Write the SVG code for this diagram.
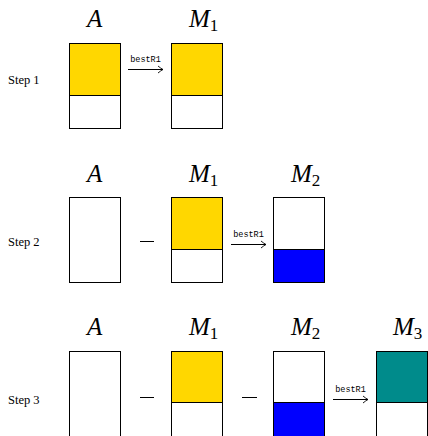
<svg xmlns="http://www.w3.org/2000/svg" width="428" height="436" viewBox="0 0 428 436">
<style>
.bx{stroke:#000;stroke-width:1;}
.w{fill:#fff;}
.y{fill:#FFD700;}
.b{fill:#0000FF;}
.t{fill:#008B8B;}
.lab{font-style:italic;font-size:25px;fill:#000;}
.sub{font-size:17px;font-style:normal;}
.step{font-size:12.5px;fill:#000;}
.op{font-size:8.5px;fill:#000;}
.ln{stroke:#000;stroke-width:1;fill:none;}
</style>
<defs>
<marker id="ah" markerWidth="8" markerHeight="10" refX="6" refY="5" orient="auto" markerUnits="userSpaceOnUse">
<path d="M1,1.5 Q4,4 6,5 Q4,6 1,8.5" fill="none" stroke="#000" stroke-width="0.9"/>
</marker>
</defs>
<g font-family="Liberation Serif, serif">
<text class="step" x="8" y="84">Step 1</text>
<text class="step" x="8" y="246">Step 2</text>
<text class="step" x="8" y="404">Step 3</text>
<g id="s1A"><text class="lab" x="87" y="27">A</text><rect class="bx y" x="69.5" y="43.5" width="51" height="52"/><rect class="bx w" x="69.5" y="95.5" width="51" height="33"/></g>
<g id="s1M1"><text class="lab" x="189" y="27">M<tspan class="sub" dy="4">1</tspan></text><rect class="bx y" x="171.5" y="43.5" width="51" height="52"/><rect class="bx w" x="171.5" y="95.5" width="51" height="33"/></g>
<g id="s2A"><text class="lab" x="87" y="182">A</text><rect class="bx w" x="69.5" y="197.5" width="51" height="85"/></g>
<g id="s2M1"><text class="lab" x="189" y="182">M<tspan class="sub" dy="4">1</tspan></text><rect class="bx y" x="171.5" y="197.5" width="51" height="52"/><rect class="bx w" x="171.5" y="249.5" width="51" height="33"/></g>
<g id="s2M2"><text class="lab" x="291" y="182">M<tspan class="sub" dy="4">2</tspan></text><rect class="bx w" x="273.5" y="197.5" width="51" height="52"/><rect class="bx b" x="273.5" y="249.5" width="51" height="33"/></g>
<g id="s3A"><text class="lab" x="87" y="335">A</text><rect class="bx w" x="69.5" y="351.5" width="51" height="100"/></g>
<g id="s3M1"><text class="lab" x="189" y="335">M<tspan class="sub" dy="4">1</tspan></text><rect class="bx y" x="171.5" y="351.5" width="51" height="51"/><rect class="bx w" x="171.5" y="402.5" width="51" height="50"/></g>
<g id="s3M2"><text class="lab" x="291" y="335">M<tspan class="sub" dy="4">2</tspan></text><rect class="bx w" x="273.5" y="351.5" width="51" height="51"/><rect class="bx b" x="273.5" y="402.5" width="51" height="50"/></g>
<g id="s3M3"><text class="lab" x="393" y="335">M<tspan class="sub" dy="4">3</tspan></text><rect class="bx t" x="376.5" y="351.5" width="51" height="51"/><rect class="bx w" x="376.5" y="402.5" width="51" height="50"/></g>
</g>
<g id="connectors">
<line class="ln" x1="128" y1="69.5" x2="163" y2="69.5" marker-end="url(#ah)"/>
<line class="ln" x1="231" y1="244.5" x2="266" y2="244.5" marker-end="url(#ah)"/>
<line class="ln" x1="333" y1="399.5" x2="368" y2="399.5" marker-end="url(#ah)"/>
<g font-family="Liberation Mono, monospace">
<text class="op" x="145.5" y="62" text-anchor="middle">bestR1</text>
<text class="op" x="248.5" y="237" text-anchor="middle">bestR1</text>
<text class="op" x="350.5" y="392" text-anchor="middle">bestR1</text>
</g>
<line class="ln" x1="140" y1="241.5" x2="154" y2="241.5"/>
<line class="ln" x1="140" y1="397.5" x2="154" y2="397.5"/>
<line class="ln" x1="242" y1="397.5" x2="257" y2="397.5"/>
</g>
</svg>
